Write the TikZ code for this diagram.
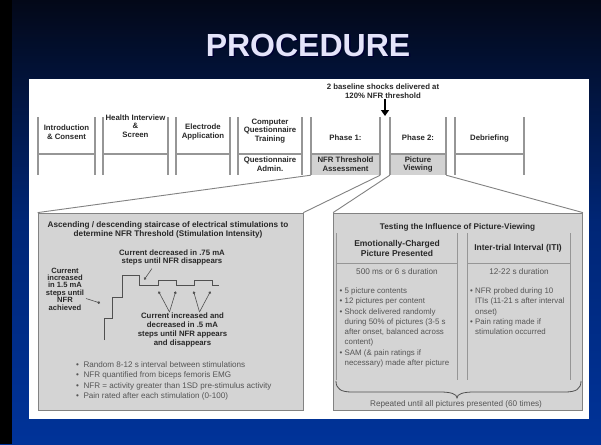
\documentclass[tikz,border=0pt]{standalone}
\usepackage{fontspec}
\setmainfont{Liberation Sans}
\usetikzlibrary{arrows.meta}
\definecolor{bgtop}{RGB}{3,8,24}
\definecolor{bgmid}{RGB}{0,38,118}
\definecolor{bgbot}{RGB}{0,51,153}
\definecolor{titlec}{RGB}{228,228,250}
\definecolor{linegray}{RGB}{150,150,150}
\definecolor{cellgray}{RGB}{210,210,210}
\definecolor{boxgray}{RGB}{212,212,212}
\definecolor{boxedge}{RGB}{130,130,130}
\definecolor{txt}{RGB}{40,40,40}
\definecolor{btxt}{RGB}{85,85,85}
\definecolor{stair}{RGB}{80,80,80}
\begin{document}
\begin{tikzpicture}[x=1pt,y=-1pt,
  lbl/.style={font=\fontsize{7.8}{8.6}\selectfont\bfseries, text=txt, align=center, inner sep=0pt},
  bul/.style={font=\fontsize{7.9}{10.3}\selectfont, text=btxt, align=left, anchor=north west, inner sep=0pt},
  plain/.style={font=\fontsize{8.2}{9}\selectfont, text=btxt, align=center, inner sep=0pt},
  tline/.style={draw=linegray, line width=1.1pt},
  cell/.style={fill=cellgray, draw=none, minimum height=20pt, inner sep=0pt},
  bigbox/.style={fill=boxgray, draw=boxedge, line width=0.8pt, minimum height=197pt, inner sep=0pt},
  zoomline/.style={draw=boxedge, line width=0.9pt},
  pointer/.style={draw=stair, line width=0.6pt, -{Circle[length=2.6pt]}},
  colline/.style={draw=linegray, line width=1pt}]
\useasboundingbox (0,0) rectangle (601,444);
% background
\shade[top color=bgtop, bottom color=bgbot, middle color=bgmid] (0,0) rectangle (601,444);
\fill[black] (0,0) rectangle (12,444);
% title
\node[font=\fontsize{32}{32}\selectfont\bfseries, text=black!80!blue, inner sep=0pt] (titleshadow) at (309.5,46.5) {PROCEDURE};
\node[font=\fontsize{32}{32}\selectfont\bfseries, text=titlec, inner sep=0pt] (title) at (308,45) {PROCEDURE};
% white panel
\fill[white] (29,79) rectangle (589,419);

% timeline boxes
\node[cell, minimum width=69pt] (p1g) at (345.5,165) {};
\node[cell, minimum width=56pt] (p2g) at (418,165) {};
\foreach \l/\r in {38/95, 103/168, 176/230, 238/302, 311/380, 390/446, 455/524}{
  \draw[tline] (\l,117) -- (\l,175);
  \draw[tline] (\r,117) -- (\r,175);
  \draw[tline] (\l,154) -- (\r,154);
}

\node[lbl] (intro) at (66.5,132) {Introduction\\\& Consent};
\node[lbl] (health) at (135.5,126) {Health Interview\\\&\\Screen};
\node[lbl] (elec) at (203,132) {Electrode\\Application};
\node[lbl] (comp) at (270,131) {Computer\\Questionnaire\\Training};
\node[lbl] (qadmin) at (270,164.5) {Questionnaire\\Admin.};
\node[lbl] (ph1) at (345.5,138) {Phase 1:};
\node[lbl] (ph2) at (418,138) {Phase 2:};
\node[lbl] (deb) at (489.5,138) {Debriefing};
\node[lbl] (ph1t) at (345.5,164.5) {NFR Threshold\\Assessment};
\node[lbl] (ph2t) at (418,164.5) {Picture\\Viewing};

% baseline shocks
\node[lbl] (shock) at (383,91.5) {2 baseline shocks delivered at\\120\% NFR threshold};
\coordinate (shockend) at (385,116);
\draw[line width=2.2pt, -{Triangle[width=8pt,length=6pt]}] (shockend |- shock.south) -- (shockend);

% big boxes
\node[bigbox, minimum width=265pt] (lbox) at (170.5,311.5) {};
\node[bigbox, minimum width=249pt] (rbox) at (458,311.5) {};
\draw[zoomline] (p1g.south west) -- (lbox.north west);
\draw[zoomline] (p1g.south east) -- (lbox.north east);
\draw[zoomline] (p2g.south west) -- (rbox.north west);
\draw[zoomline] (p2g.south east) -- (rbox.north east);

% left box content
\node[lbl, font=\fontsize{8.2}{9.5}\selectfont\bfseries] (ltitle) at (168,230) {Ascending / descending staircase of electrical stimulations to\\determine NFR Threshold (Stimulation Intensity)};
\node[lbl] (dec) at (172,257.5) {Current decreased in .75 mA\\steps until NFR disappears};
\node[lbl, font=\fontsize{7.6}{7.4}\selectfont\bfseries] (inc) at (65,289) {Current\\increased\\in 1.5 mA\\steps until\\NFR\\achieved};
\node[lbl, font=\fontsize{7.8}{8.7}\selectfont\bfseries] (incdec) at (182.5,330) {Current increased and\\decreased in .5 mA\\steps until NFR appears\\and disappears};
\draw[stair, line width=0.9pt] (104,340) -- (104,318) -- (112.5,318) -- (112.5,297) -- (122,297) -- (122,275) -- (139,275) -- (139,285.5) -- (158,285.5) -- (158,280) -- (176,280) -- (176,285.5) -- (194,285.5) -- (194,280) -- (212,280) -- (212,285.5) -- (219,285.5);
\coordinate (incstart) at (86,298.5);
\coordinate (incdot) at (100,303);
\coordinate (decstart) at (152,268.5);
\coordinate (decdot) at (144.3,279.5);
\coordinate (va) at (169.5,312);
\coordinate (vb) at (199.5,312);
\coordinate (d1) at (158.6,291.5);
\coordinate (d2) at (175.7,291.5);
\coordinate (d3) at (193.6,291.5);
\coordinate (d4) at (210.4,291.5);
\draw[pointer] (incstart) -- (incdot);
\draw[pointer] (decstart) -- (decdot);
\draw[pointer] (va) -- (d1);
\draw[pointer] (va) -- (d2);
\draw[pointer] (vb) -- (d3);
\draw[pointer] (vb) -- (d4);
\node[bul, font=\fontsize{8.1}{10.6}\selectfont] (lbul) at (76,361) {\textbullet\ \ Random 8-12 s interval between stimulations\\\textbullet\ \ NFR quantified from biceps femoris EMG\\\textbullet\ \ NFR = activity greater than 1SD pre-stimulus activity\\\textbullet\ \ Pain rated after each stimulation (0-100)};

% right box content
\node[lbl, font=\fontsize{8.2}{9}\selectfont\bfseries] (rtitle) at (457.5,227) {Testing the Influence of Picture-Viewing};
\draw[colline] (336.5,233) -- (336.5,380) (457,233) -- (457,380) (336.5,263) -- (457,263);
\draw[colline] (467.5,233) -- (467.5,380) (570,233) -- (570,380) (467.5,263) -- (570,263);
\node[lbl, font=\fontsize{8.5}{9.2}\selectfont\bfseries] (emo) at (397,248.5) {Emotionally-Charged\\Picture Presented};
\node[lbl, font=\fontsize{8.5}{9.2}\selectfont\bfseries] (iti) at (518,248.5) {Inter-trial Interval (ITI)};
\node[plain] (dur1) at (397,271.5) {500 ms or 6 s duration};
\node[plain] (dur2) at (519,271.5) {12-22 s duration};
\node[bul] (ebul) at (339.5,287.5) {\textbullet\ 5 picture contents\\\textbullet\ 12 pictures per content\\\textbullet\ Shock delivered randomly\\\phantom{\textbullet\ }during 50\% of pictures (3-5 s\\\phantom{\textbullet\ }after onset, balanced across\\\phantom{\textbullet\ }content)\\\textbullet\ SAM (\& pain ratings if\\\phantom{\textbullet\ }necessary) made after picture};
\node[bul] (ibul) at (470,287.5) {\textbullet\ NFR probed during 10\\\phantom{\textbullet\ }ITIs (11-21 s after interval\\\phantom{\textbullet\ }onset)\\\textbullet\ Pain rating made if\\\phantom{\textbullet\ }stimulation occurred};
\coordinate (brl) at (336,381);
\coordinate (brr) at (581,381);
\coordinate (brtip) at (457,398);
\draw[draw=stair, line width=0.8pt] (brl) .. controls (336,389) and (341,392) .. (352,392) -- (440,392) .. controls (451,392) and (457,394) .. (brtip) .. controls (457,394) and (463,392) .. (474,392) -- (565,392) .. controls (576,392) and (581,389) .. (brr);
\node[plain] (rep) at (456,404.5) {Repeated until all pictures presented (60 times)};
\end{tikzpicture}
\end{document}
